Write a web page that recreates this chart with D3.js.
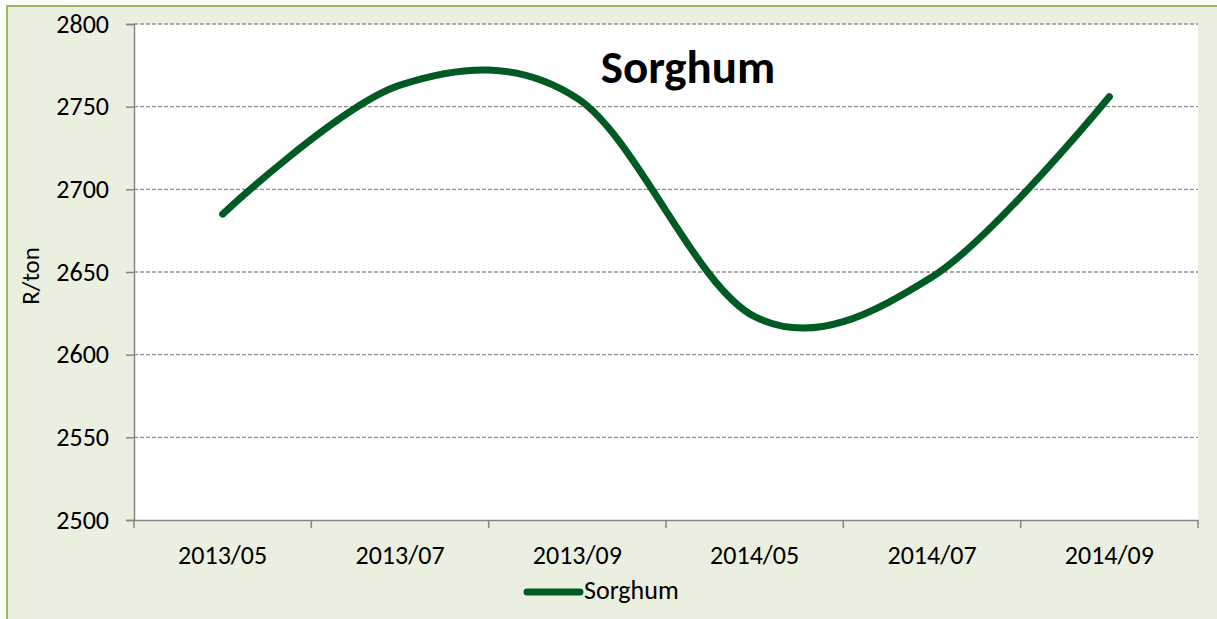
<!DOCTYPE html>
<html>
<head>
<meta charset="utf-8">
<script src="https://cdn.jsdelivr.net/npm/d3@7"></script>
<style>
  body { margin: 0; background: #fff; }
  text { font-family: Carlito, Calibri, "Open Sans", sans-serif; }
</style>
</head>
<body>
<div id="chart-area"></div>
<script>
const months = ['2013/05', '2013/07', '2013/09', '2014/05', '2014/07', '2014/09']
const prices = [2685, 2763, 2755, 2623, 2647, 2756]
const yTicks = [2500, 2550, 2600, 2650, 2700, 2750, 2800]

const margin = { left: 134, top: 24, right: 19, bottom: 99 }
const W = 1217, H = 619
const width = W - (margin.left + margin.right)
const height = H - (margin.top + margin.bottom)

const svg = d3.select('#chart-area').append('svg')
    .attr('width', W)
    .attr('height', H)

// chart frame
svg.append('rect')
    .attr('x', 7).attr('y', 6)
    .attr('width', W + 10).attr('height', H + 10)
    .attr('fill', '#ebefdf')
    .attr('stroke', '#9bbb59')
    .attr('stroke-width', 2)

const g = svg.append('g')
    .attr('transform', `translate(${margin.left}, ${margin.top})`)

g.append('rect')
    .attr('width', width).attr('height', height)
    .attr('fill', '#fff')

const xScale = d3.scaleBand()
    .domain(months)
    .range([0, width])

const yScale = d3.scaleLinear()
    .domain([2500, 2800])
    .range([height, 0])

// gridlines
g.selectAll('.grid')
    .data(yTicks.slice(1))
    .enter().append('line')
    .attr('x1', 0).attr('x2', width)
    .attr('y1', d => yScale(d)).attr('y2', d => yScale(d))
    .attr('stroke', '#8f8f8f')
    .attr('stroke-width', 1.4)
    .attr('stroke-dasharray', '4,2')

const yAxisCall = d3.axisLeft(yScale)
    .tickValues(yTicks)
    .tickFormat(d3.format('d'))
    .tickSize(8)
    .tickPadding(17)
const yAxisGroup = g.append('g').call(yAxisCall)
yAxisGroup.attr('font-family', null).attr('font-size', null)
yAxisGroup.selectAll('text').attr('font-size', '26px').attr('fill', '#000')
yAxisGroup.selectAll('line, path').attr('stroke', '#868686').attr('stroke-width', 1.5)

const xAxisGroup = g.append('g')
    .attr('transform', `translate(0, ${height})`)
    .call(d3.axisBottom(xScale).tickSize(0))
xAxisGroup.attr('font-family', null).attr('font-size', null)
xAxisGroup.select('path').attr('stroke', '#868686').attr('stroke-width', 1.5)
xAxisGroup.selectAll('text')
    .attr('font-size', '26px')
    .attr('fill', '#000')
    .attr('dy', null)
    .attr('y', 44)

// category boundary ticks
g.selectAll('.xtick')
    .data(months.concat(['end']))
    .enter().append('line')
    .attr('x1', (d, i) => i * xScale.step())
    .attr('x2', (d, i) => i * xScale.step())
    .attr('y1', height).attr('y2', height + 8)
    .attr('stroke', '#868686')
    .attr('stroke-width', 1.5)

const line = d3.line()
    .x((d, i) => xScale(months[i]) + xScale.bandwidth() / 2)
    .y(d => yScale(d))
    .curve(d3.curveCardinal.tension(0))

g.append('path')
    .datum(prices)
    .attr('d', line)
    .attr('fill', 'none')
    .attr('stroke', '#005a24')
    .attr('stroke-width', 7)
    .attr('stroke-linecap', 'round')
    .attr('stroke-linejoin', 'round')

// title
svg.append('text')
    .attr('x', 688).attr('y', 83)
    .attr('text-anchor', 'middle')
    .attr('font-size', '47px')
    .attr('font-weight', 'bold')
    .text('Sorghum')

// y label
svg.append('text')
    .attr('transform', 'translate(39, 276) rotate(-90)')
    .attr('text-anchor', 'middle')
    .attr('font-size', '25px')
    .text('R/ton')

// legend
svg.append('line')
    .attr('x1', 527).attr('x2', 580)
    .attr('y1', 592).attr('y2', 592)
    .attr('stroke', '#005a24')
    .attr('stroke-width', 7)
    .attr('stroke-linecap', 'round')
svg.append('text')
    .attr('x', 584).attr('y', 599)
    .attr('font-size', '26px')
    .text('Sorghum')
</script>
</body>
</html>
